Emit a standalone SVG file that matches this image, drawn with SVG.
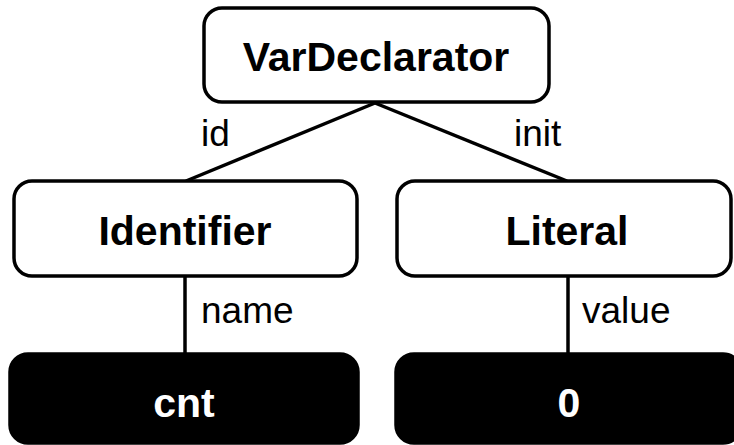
<svg xmlns="http://www.w3.org/2000/svg" width="734" height="445" viewBox="0 0 734 445">
<style>
.box{fill:#fff;stroke:#000;stroke-width:3.5}
.leaf{fill:#000;stroke:#000;stroke-width:3.5}
.t{font-family:"Liberation Sans",Arial,sans-serif;font-weight:bold;font-size:41px;text-anchor:middle;fill:#000}
.tw{fill:#fff}
.lbl{font-family:"Liberation Sans",Arial,sans-serif;font-size:37px;fill:#000}
.edge{stroke:#000;stroke-width:3.5;fill:none}
</style>
<rect width="734" height="445" fill="#fff"/>
<g id="connectors">
<line class="edge" x1="375" y1="103" x2="186" y2="181"/>
<line class="edge" x1="375" y1="103" x2="567" y2="181"/>
<line class="edge" x1="185" y1="276" x2="185" y2="354"/>
<line class="edge" x1="568" y1="276" x2="568" y2="354"/>
<text class="lbl" x="201" y="146">id</text>
<text class="lbl" x="514" y="146">init</text>
<text class="lbl" x="201" y="323">name</text>
<text class="lbl" x="582" y="323">value</text>
</g>
<g id="VarDeclarator">
<rect class="box" x="204" y="8" width="345" height="94" rx="18"/>
<text class="t" x="376" y="71">VarDeclarator</text>
</g>
<g id="Identifier">
<rect class="box" x="14" y="181" width="343" height="95" rx="18"/>
<text class="t" x="185" y="245">Identifier</text>
</g>
<g id="Literal">
<rect class="box" x="397" y="181" width="334" height="95" rx="18"/>
<text class="t" x="567" y="245">Literal</text>
</g>
<g id="cnt">
<rect class="leaf" x="10" y="354" width="348" height="89" rx="18"/>
<text class="t tw" x="184" y="417">cnt</text>
</g>
<g id="zero">
<rect class="leaf" x="396" y="354" width="345" height="89" rx="18"/>
<text class="t tw" x="569" y="417">0</text>
</g>
</svg>
